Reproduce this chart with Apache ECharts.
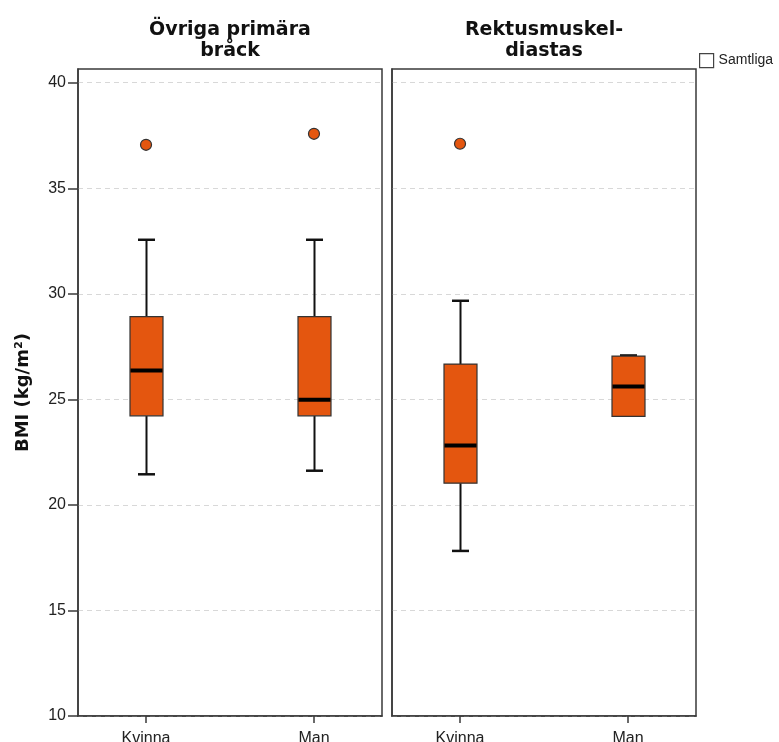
<!DOCTYPE html>
<html>
<head>
<meta charset="utf-8">
<script src="https://cdn.jsdelivr.net/npm/echarts@6/dist/echarts.min.js"></script>
<style>html,body{margin:0;padding:0;background:#fff;}#c{width:779px;height:742px;}</style>
</head>
<body>
<div id="c"></div>
<script>
// ---- data ----
const panelTitles = ['Övriga primära\nbråck', 'Rektusmuskel-\ndiastas'];
const categories = ['Kvinna', 'Man'];
const legendName = 'Samtliga';
const yTicks = [10, 15, 20, 25, 30, 35, 40];
// [categoryPos, min, Q1, median, Q3, max]
const boxesLeft = [
  [1, 21.45, 24.22, 26.37, 28.92, 32.56],
  [2, 21.62, 24.22, 24.98, 28.92, 32.56]
];
const boxesRight = [
  [1, 17.82, 21.03, 22.81, 26.67, 29.67],
  [2, 24.19, 24.19, 25.61, 27.05, 27.08]
];
const outliersLeft = [[1, 37.06], [2, 37.58]];
const outliersRight = [[1, 37.11]];

// ---- styling ----
const ORANGE = '#E4560F';
const FRAME = '#3a3a3a';
const BOX_W = 33, CAP_W = 17;

function renderBox(params, api) {
  const x = api.value(0);
  const pMin = api.coord([x, api.value(1)]);
  const pQ1 = api.coord([x, api.value(2)]);
  const pMed = api.coord([x, api.value(3)]);
  const pQ3 = api.coord([x, api.value(4)]);
  const pMax = api.coord([x, api.value(5)]);
  const cx = Math.round(pMed[0]) + 0.5;
  const children = [];
  const wStyle = {stroke: '#111', lineWidth: 2};
  if (Math.abs(pMin[1] - pQ1[1]) > 0.5) {
    children.push({type: 'line', shape: {x1: cx, y1: pQ1[1], x2: cx, y2: pMin[1]}, style: wStyle});
    children.push({type: 'line', shape: {x1: cx - CAP_W / 2, y1: pMin[1], x2: cx + CAP_W / 2, y2: pMin[1]}, style: {stroke: '#111', lineWidth: 2.5}});
  }
  if (Math.abs(pMax[1] - pQ3[1]) > 0.2) {
    children.push({type: 'line', shape: {x1: cx, y1: pQ3[1], x2: cx, y2: pMax[1]}, style: wStyle});
    children.push({type: 'line', shape: {x1: cx - CAP_W / 2, y1: pMax[1], x2: cx + CAP_W / 2, y2: pMax[1]}, style: {stroke: '#111', lineWidth: 2.5}});
  }
  children.push({type: 'rect', shape: {x: cx - BOX_W / 2, y: pQ3[1], width: BOX_W, height: pQ1[1] - pQ3[1]},
    style: {fill: ORANGE, stroke: '#333', lineWidth: 1.2}});
  children.push({type: 'line', shape: {x1: cx - BOX_W / 2 + 0.5, y1: pMed[1], x2: cx + BOX_W / 2 - 0.5, y2: pMed[1]},
    style: {stroke: '#000', lineWidth: 4}});
  return {type: 'group', children};
}

const xCommon = (gi) => ({
  type: 'value', gridIndex: gi, min: 0.595, max: 2.405,
  axisLine: {show: true, onZero: false, lineStyle: {color: FRAME, width: 1.5}},
  axisTick: {show: true, customValues: [1, 2], length: 7, lineStyle: {color: FRAME, width: 1.5}},
  axisLabel: {show: true, customValues: [1, 2], margin: 15, color: '#222', fontSize: 16,
    fontFamily: 'Liberation Sans, Arial, sans-serif', formatter: v => categories[Math.round(v) - 1] || ''},
  splitLine: {show: false}
});
const yCommon = (gi, showLabels) => ({
  type: 'value', gridIndex: gi, min: 10, max: 40.65, interval: 5,
  axisLine: {show: true, lineStyle: {color: FRAME, width: 1.5}},
  axisTick: {show: showLabels, customValues: yTicks, length: 10, lineStyle: {color: FRAME, width: 1.5}},
  axisLabel: {show: showLabels, customValues: yTicks, margin: 12, color: '#222', fontSize: 16,
    fontFamily: 'Liberation Sans, Arial, sans-serif'},
  splitLine: {show: true, lineStyle: {color: '#d8d8d8', width: 1, type: [5, 4]}}
});

const option = {
  backgroundColor: '#fff',
  animation: false,
  grid: [
    {left: 78, right: 397, top: 69, bottom: 26, show: true, borderColor: FRAME, borderWidth: 1.5,
      backgroundColor: 'transparent', containLabel: false, outerBoundsMode: 'none'},
    {left: 392, right: 83, top: 69, bottom: 26, show: true, borderColor: FRAME, borderWidth: 1.5,
      backgroundColor: 'transparent', containLabel: false, outerBoundsMode: 'none'}
  ],
  xAxis: [xCommon(0), xCommon(1)],
  yAxis: [
    Object.assign(yCommon(0, true), {name: 'BMI (kg/m²)', nameLocation: 'middle', nameRotate: 90, nameGap: 46,
      nameTextStyle: {fontSize: 18, fontWeight: 'bold', color: '#111', fontFamily: 'DejaVu Sans, sans-serif'}}),
    yCommon(1, false)
  ],
  legend: {
    show: true, left: 699, top: 53, padding: 0, itemWidth: 14, itemHeight: 14, orient: 'vertical',
    data: [{name: legendName, icon: 'rect', itemStyle: {color: '#fff', borderColor: '#444', borderWidth: 1.2}}],
    textStyle: {fontSize: 14, color: '#222', fontFamily: 'Liberation Sans, Arial, sans-serif'}
  },
  graphic: [
    {type: 'text', x: 230, y: 41, style: {text: panelTitles[0], textAlign: 'center', textVerticalAlign: 'middle',
      font: 'bold 19px "DejaVu Sans", sans-serif', lineHeight: 21, fill: '#111'}},
    {type: 'text', x: 544, y: 41, style: {text: panelTitles[1], textAlign: 'center', textVerticalAlign: 'middle',
      font: 'bold 19px "DejaVu Sans", sans-serif', lineHeight: 21, fill: '#111'}}
  ],
  series: [
    {name: legendName, type: 'custom', xAxisIndex: 0, yAxisIndex: 0, renderItem: renderBox, data: boxesLeft,
      encode: {x: 0, y: [1, 2, 3, 4, 5]}, z: 3},
    {name: legendName, type: 'custom', xAxisIndex: 1, yAxisIndex: 1, renderItem: renderBox, data: boxesRight,
      encode: {x: 0, y: [1, 2, 3, 4, 5]}, z: 3},
    {name: 'out1', type: 'scatter', xAxisIndex: 0, yAxisIndex: 0, data: outliersLeft, symbolSize: 11,
      itemStyle: {color: ORANGE, opacity: 1, borderColor: '#333', borderWidth: 1.2}, z: 4},
    {name: 'out2', type: 'scatter', xAxisIndex: 1, yAxisIndex: 1, data: outliersRight, symbolSize: 11,
      itemStyle: {color: ORANGE, opacity: 1, borderColor: '#333', borderWidth: 1.2}, z: 4}
  ]
};
const chart = echarts.init(document.getElementById('c'), null, {renderer: 'canvas'});
chart.setOption(option);
</script>
</body>
</html>
